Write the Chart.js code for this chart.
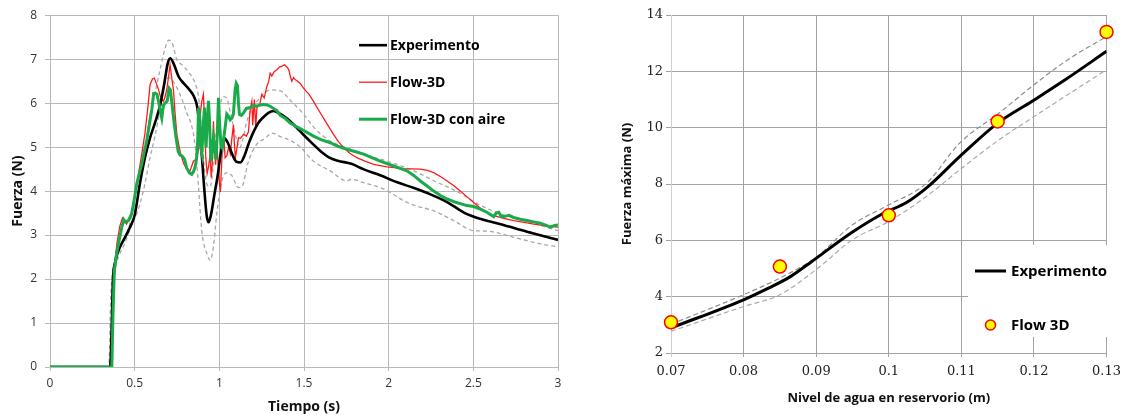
<!DOCTYPE html>
<html>
<head>
<meta charset="utf-8">
<script src="https://cdn.jsdelivr.net/npm/chart.js@4.4.1/dist/chart.umd.min.js"></script>
<style>
  html, body { margin: 0; padding: 0; background: #fff; }
  #wrap { position: relative; width: 1128px; height: 416px; overflow: hidden; }
  #wrap canvas { position: absolute; top: 0; }
  #fuerzaTiempo { left: 0; }
  #fuerzaNivel { left: 600px; }
</style>
</head>
<body>
<div id="wrap">
  <canvas id="fuerzaTiempo" width="600" height="416"></canvas>
  <canvas id="fuerzaNivel" width="528" height="416"></canvas>
</div>
<script>
// ---------- Fuerza vs tiempo ----------
const tExp = [0, 0.355, 0.365, 0.372, 0.385, 0.40, 0.425, 0.45, 0.475, 0.50, 0.53, 0.56, 0.59, 0.62, 0.65, 0.675, 0.695, 0.71, 0.73, 0.76, 0.79, 0.82, 0.85, 0.87, 0.89, 0.91, 0.925, 0.937, 0.95, 0.97, 0.99, 1.01, 1.03, 1.05, 1.075, 1.10, 1.125, 1.15, 1.175, 1.20, 1.23, 1.26, 1.29, 1.32, 1.35, 1.40, 1.45, 1.50, 1.55, 1.60, 1.65, 1.70, 1.78, 1.85, 1.95, 2.05, 2.15, 2.25, 2.35, 2.45, 2.55, 2.65, 2.75, 2.85, 2.95, 3.0];
const fExp = [0, 0, 1.0, 2.0, 2.38, 2.6, 2.82, 3.0, 3.2, 3.45, 4.15, 4.75, 5.2, 5.55, 5.95, 6.45, 6.9, 7.02, 6.9, 6.6, 6.45, 6.32, 6.15, 5.9, 5.15, 4.1, 3.45, 3.29, 3.45, 3.9, 4.35, 4.9, 5.2, 5.1, 4.85, 4.67, 4.65, 4.82, 5.1, 5.33, 5.55, 5.68, 5.78, 5.82, 5.78, 5.65, 5.47, 5.27, 5.08, 4.9, 4.76, 4.69, 4.62, 4.5, 4.36, 4.2, 4.07, 3.92, 3.74, 3.5, 3.36, 3.26, 3.15, 3.04, 2.94, 2.89];

const tExpSup = [0, 0.348, 0.358, 0.368, 0.385, 0.41, 0.435, 0.46, 0.49, 0.512, 0.54, 0.565, 0.59, 0.62, 0.65, 0.68, 0.70, 0.72, 0.75, 0.78, 0.82, 0.857, 0.877, 0.893, 0.91, 0.926, 0.946, 0.965, 0.985, 1.005, 1.024, 1.044, 1.064, 1.083, 1.103, 1.12, 1.14, 1.16, 1.185, 1.24, 1.30, 1.36, 1.42, 1.50, 1.56, 1.655, 1.753, 1.85, 1.99, 2.15, 2.27, 2.40, 2.54, 2.65, 2.75, 2.85, 3.0];
const fExpSup = [0, 0, 1.5, 2.1, 2.45, 2.75, 2.9, 3.1, 3.6, 4.08, 4.6, 5.15, 5.7, 6.23, 6.76, 7.25, 7.43, 7.38, 6.98, 6.87, 6.7, 6.45, 6.15, 5.5, 4.6, 4.16, 4.1, 4.6, 5.5, 5.97, 6.15, 6.12, 5.8, 5.48, 5.15, 4.98, 5.2, 5.55, 5.82, 6.12, 6.3, 6.28, 6.06, 5.74, 5.44, 5.14, 4.99, 4.84, 4.68, 4.46, 4.23, 4.0, 3.68, 3.5, 3.38, 3.27, 3.1];

const tExpInf = [0, 0.36, 0.37, 0.385, 0.41, 0.44, 0.463, 0.49, 0.512, 0.551, 0.591, 0.62, 0.65, 0.68, 0.70, 0.74, 0.78, 0.807, 0.837, 0.855, 0.875, 0.896, 0.926, 0.946, 0.965, 0.985, 1.015, 1.044, 1.074, 1.113, 1.133, 1.172, 1.22, 1.27, 1.31, 1.36, 1.42, 1.478, 1.556, 1.655, 1.753, 1.78, 1.852, 1.95, 2.009, 2.088, 2.15, 2.266, 2.384, 2.502, 2.58, 2.738, 2.896, 3.0];
const fExpInf = [0, 0, 1.6, 2.2, 2.55, 2.8, 3.03, 3.3, 3.48, 4.0, 4.76, 5.25, 5.85, 6.45, 6.58, 6.42, 6.08, 5.78, 5.48, 5.1, 4.2, 3.1, 2.58, 2.43, 2.73, 3.48, 4.23, 4.42, 4.35, 4.08, 4.1, 4.68, 5.06, 5.2, 5.32, 5.24, 5.15, 5.0, 4.68, 4.46, 4.23, 4.27, 4.19, 4.08, 3.97, 3.78, 3.68, 3.55, 3.33, 3.10, 3.09, 2.95, 2.80, 2.73];

const tFlow = [0, 0.36, 0.368, 0.378, 0.395, 0.412, 0.428, 0.44, 0.452, 0.47, 0.49, 0.515, 0.54, 0.561, 0.578, 0.591, 0.605, 0.616, 0.628, 0.64, 0.652, 0.67, 0.68, 0.69, 0.70, 0.709, 0.718, 0.729, 0.738, 0.749, 0.768, 0.778, 0.79, 0.807, 0.827, 0.847, 0.86, 0.872, 0.88, 0.887, 0.897, 0.906, 0.913, 0.92, 0.928, 0.936, 0.946, 0.952, 0.958, 0.965, 0.972, 0.978, 0.985, 0.993, 1.0, 1.006, 1.012, 1.02, 1.027, 1.034, 1.044, 1.055, 1.065, 1.074, 1.083, 1.09, 1.095, 1.105, 1.113, 1.125, 1.143, 1.16, 1.172, 1.182, 1.192, 1.197, 1.207, 1.215, 1.222, 1.24, 1.251, 1.265, 1.281, 1.292, 1.30, 1.31, 1.325, 1.34, 1.355, 1.37, 1.385, 1.40, 1.41, 1.42, 1.428, 1.438, 1.45, 1.478, 1.497, 1.53, 1.556, 1.585, 1.615, 1.645, 1.674, 1.70, 1.733, 1.77, 1.812, 1.86, 1.911, 1.99, 2.088, 2.187, 2.23, 2.266, 2.31, 2.345, 2.385, 2.423, 2.46, 2.502, 2.561, 2.62, 2.68, 2.738, 2.80, 2.857, 2.93, 3.0];
const fFlow = [0, 0, 1.2, 2.2, 2.8, 3.2, 3.39, 3.32, 3.25, 3.4, 3.6, 4.2, 4.8, 5.32, 5.9, 6.42, 6.55, 6.57, 6.45, 6.32, 6.15, 6.04, 6.15, 6.32, 6.6, 6.87, 6.6, 6.3, 5.8, 5.29, 4.91, 4.76, 4.62, 4.5, 4.46, 4.68, 4.72, 4.85, 5.0, 5.74, 6.05, 6.2, 5.6, 4.76, 4.4, 4.55, 4.84, 4.31, 4.6, 5.59, 5.0, 4.6, 5.1, 4.6, 4.2, 3.98, 4.5, 5.1, 5.2, 4.76, 4.8, 5.0, 4.85, 5.2, 5.5, 5.0, 4.76, 5.0, 5.21, 5.2, 5.29, 5.25, 5.35, 5.85, 6.04, 5.5, 6.08, 5.44, 5.9, 6.0, 6.2, 6.12, 6.38, 6.5, 6.68, 6.62, 6.72, 6.76, 6.82, 6.84, 6.87, 6.82, 6.76, 6.6, 6.5, 6.58, 6.53, 6.45, 6.34, 6.2, 6.04, 5.85, 5.66, 5.47, 5.29, 5.14, 4.99, 4.86, 4.76, 4.68, 4.61, 4.55, 4.51, 4.5, 4.47, 4.42, 4.32, 4.23, 4.12, 4.0, 3.88, 3.74, 3.55, 3.44, 3.38, 3.33, 3.29, 3.25, 3.21, 3.18];

const tAire = [0, 0.365, 0.372, 0.38, 0.392, 0.404, 0.424, 0.436, 0.445, 0.463, 0.482, 0.497, 0.512, 0.527, 0.542, 0.557, 0.571, 0.586, 0.601, 0.612, 0.622, 0.632, 0.643, 0.652, 0.66, 0.67, 0.68, 0.692, 0.703, 0.711, 0.72, 0.733, 0.745, 0.757, 0.768, 0.78, 0.795, 0.807, 0.822, 0.837, 0.848, 0.857, 0.866, 0.873, 0.877, 0.884, 0.89, 0.897, 0.905, 0.912, 0.917, 0.922, 0.928, 0.936, 0.942, 0.95, 0.957, 0.965, 0.972, 0.98, 0.988, 0.995, 1.002, 1.01, 1.018, 1.026, 1.034, 1.044, 1.054, 1.064, 1.074, 1.083, 1.093, 1.10, 1.107, 1.113, 1.119, 1.13, 1.143, 1.16, 1.182, 1.202, 1.221, 1.241, 1.26, 1.281, 1.30, 1.32, 1.34, 1.36, 1.39, 1.418, 1.448, 1.478, 1.52, 1.556, 1.60, 1.655, 1.70, 1.753, 1.80, 1.852, 1.90, 1.95, 2.029, 2.108, 2.15, 2.187, 2.225, 2.266, 2.305, 2.345, 2.40, 2.463, 2.502, 2.541, 2.58, 2.62, 2.635, 2.65, 2.665, 2.68, 2.71, 2.738, 2.777, 2.817, 2.856, 2.896, 2.93, 2.955, 2.98, 3.0];
const fAire = [0, 0, 1.2, 2.2, 2.55, 2.8, 3.18, 3.35, 3.3, 3.33, 3.48, 3.8, 4.16, 4.4, 4.61, 4.9, 5.14, 5.5, 5.85, 6.22, 6.23, 6.2, 6.0, 5.8, 5.66, 5.95, 6.0, 6.05, 6.34, 6.3, 6.0, 5.55, 5.2, 4.9, 4.82, 4.8, 4.72, 4.53, 4.42, 4.38, 4.45, 4.55, 4.75, 5.2, 5.89, 5.7, 5.0, 4.86, 5.5, 5.9, 5.3, 5.0, 5.6, 6.05, 5.6, 4.68, 4.9, 5.2, 4.95, 4.72, 5.3, 6.12, 5.5, 5.05, 4.98, 5.2, 5.44, 5.75, 5.7, 5.62, 5.66, 5.75, 6.3, 6.45, 6.4, 6.0, 5.74, 5.72, 5.78, 5.88, 5.9, 5.95, 5.93, 5.96, 5.97, 5.96, 5.93, 5.88, 5.83, 5.72, 5.65, 5.55, 5.48, 5.42, 5.33, 5.25, 5.17, 5.1, 5.02, 4.95, 4.9, 4.84, 4.76, 4.68, 4.57, 4.46, 4.35, 4.23, 4.12, 4.0, 3.9, 3.82, 3.74, 3.67, 3.65, 3.59, 3.52, 3.42, 3.5, 3.52, 3.42, 3.42, 3.45, 3.40, 3.36, 3.33, 3.3, 3.27, 3.22, 3.18, 3.22, 3.23];

const tiempoTicks = [0, 0.5, 1, 1.5, 2, 2.5, 3];
const fuerzaTicks = [0, 1, 2, 3, 4, 5, 6, 7, 8];

// ---------- Fuerza máxima vs nivel de agua ----------
const nivelExp = [0.07, 0.08, 0.0835, 0.0865, 0.0894, 0.0948, 0.0989, 0.1025, 0.1052, 0.1098, 0.115, 0.1197, 0.1243, 0.13];
const fMaxExp = [2.89, 3.89, 4.31, 4.72, 5.25, 6.26, 6.91, 7.35, 7.86, 8.98, 10.16, 10.93, 11.70, 12.71];
const nivelBanda = [0.07, 0.08, 0.085, 0.09, 0.095, 0.1, 0.1052, 0.1098, 0.1152, 0.1197, 0.1243, 0.13];
const fMaxSup = [3.02, 4.07, 4.66, 5.4, 6.55, 7.26, 8.03, 9.46, 10.52, 11.46, 12.35, 13.24];
const fMaxInf = [2.77, 3.65, 4.07, 4.96, 6.02, 6.67, 7.56, 8.51, 9.57, 10.34, 11.11, 12.06];
const nivelFlow = [0.07, 0.085, 0.1, 0.115, 0.13];
const fMaxFlow = [3.09, 5.07, 6.89, 10.22, 13.40];
const nivelTicks = [0.07, 0.08, 0.09, 0.1, 0.11, 0.12, 0.13];
const fMaxTicks = [2, 4, 6, 8, 10, 12, 14];

const pts = (xs, ys) => xs.map((x, i) => ({ x, y: ys[i] }));
const fixedTicks = list => s => { s.ticks = list.map(v => ({ value: v })); };
const plainLabel = v => String(Math.round(v * 1000) / 1000);

// Legend drawn inside the plot area
const insetLegend = {
  id: 'insetLegend',
  beforeDatasetsDraw(chart, args, opts) {
    if (!opts.box) return;
    const { ctx, chartArea } = chart;
    ctx.save();
    ctx.fillStyle = '#fff';
    ctx.fillRect(chartArea.left + opts.box.x, chartArea.top + opts.box.y, opts.box.w, opts.box.h);
    ctx.restore();
  },
  afterDatasetsDraw(chart, args, opts) {
    const { ctx, chartArea } = chart;
    ctx.save();
    opts.items.forEach((idx, i) => {
      const ds = chart.data.datasets[idx];
      const x = chartArea.left + opts.x;
      const y = chartArea.top + opts.y + i * opts.rowGap;
      if (ds.showLine === false) {
        ctx.beginPath();
        ctx.arc(x + opts.lineLen / 2, y, opts.markerRadius, 0, Math.PI * 2);
        ctx.fillStyle = ds.backgroundColor;
        ctx.fill();
        ctx.lineWidth = ds.borderWidth;
        ctx.strokeStyle = ds.borderColor;
        ctx.stroke();
      } else {
        ctx.setLineDash([]);
        ctx.lineWidth = ds.borderWidth;
        ctx.strokeStyle = ds.borderColor;
        ctx.beginPath();
        ctx.moveTo(x, y);
        ctx.lineTo(x + opts.lineLen, y);
        ctx.stroke();
      }
      ctx.fillStyle = '#000';
      ctx.font = opts.font;
      ctx.textBaseline = 'middle';
      ctx.textAlign = 'left';
      ctx.fillText(ds.label, x + opts.lineLen + opts.gap, y + 1);
    });
    ctx.restore();
  }
};

const SANS = "'Open Sans', 'DejaVu Sans', sans-serif";
const SERIF = "'DejaVu Serif', serif";

new Chart(document.getElementById('fuerzaTiempo'), {
  type: 'line',
  data: {
    datasets: [
      { label: 'Experimento', data: pts(tExp, fExp), borderColor: '#000', borderWidth: 2.6, cubicInterpolationMode: 'monotone', order: 1 },
      { label: 'Flow-3D', data: pts(tFlow, fFlow), borderColor: '#ff1a1a', borderWidth: 1.3, tension: 0, order: 2 },
      { label: 'Flow-3D con aire', data: pts(tAire, fAire), borderColor: '#1aaa4a', borderWidth: 3, tension: 0, order: 0 },
      { label: 'Experimento (máx.)', data: pts(tExpSup, fExpSup), borderColor: '#a8a8a8', borderWidth: 1.3, borderDash: [4, 3], cubicInterpolationMode: 'monotone', order: 3 },
      { label: 'Experimento (mín.)', data: pts(tExpInf, fExpInf), borderColor: '#a8a8a8', borderWidth: 1.3, borderDash: [4, 3], cubicInterpolationMode: 'monotone', order: 4 }
    ]
  },
  options: {
    responsive: false,
    animation: false,
    devicePixelRatio: 1,
    elements: { point: { radius: 0 }, line: { fill: false } },
    layout: { padding: { top: 13, right: 42, left: 0, bottom: 0 } },
    scales: {
      x: {
        type: 'linear', min: 0, max: 3,
        afterBuildTicks: fixedTicks(tiempoTicks),
        afterFit: s => { s.height = 49; },
        ticks: { callback: plainLabel, color: '#333', font: { family: SANS, size: 12 }, padding: 5, maxRotation: 0, autoSkip: false },
        grid: { color: '#b9b9b9', tickLength: 4 },
        border: { color: '#b9b9b9' },
        title: { display: true, text: 'Tiempo (s)', color: '#111', font: { family: SANS, size: 14, weight: 'bold' }, padding: { top: 0, bottom: 1 } }
      },
      y: {
        min: 0, max: 8,
        afterBuildTicks: fixedTicks(fuerzaTicks),
        afterFit: s => { s.width = 50; },
        ticks: { callback: plainLabel, color: '#333', font: { family: SANS, size: 12 }, padding: 8 },
        grid: { color: '#b9b9b9', tickLength: 5 },
        border: { color: '#b9b9b9' },
        title: { display: true, text: 'Fuerza (N)', color: '#111', font: { family: SANS, size: 14, weight: 'bold' }, padding: { top: 10, bottom: 0 } }
      }
    },
    plugins: {
      legend: { display: false },
      tooltip: { enabled: false },
      insetLegend: { items: [0, 1, 2], x: 309, y: 30, rowGap: 37, lineLen: 28, gap: 3, font: "bold 14px " + SANS }
    }
  },
  plugins: [insetLegend]
});

new Chart(document.getElementById('fuerzaNivel'), {
  type: 'line',
  data: {
    datasets: [
      { label: 'Experimento', data: pts(nivelExp, fMaxExp), borderColor: '#000', borderWidth: 3, cubicInterpolationMode: 'monotone', order: 1 },
      { label: 'Flow 3D', data: pts(nivelFlow, fMaxFlow), showLine: false, pointRadius: 6.5, backgroundColor: '#ffff00', borderColor: '#ff0000', borderWidth: 1.5, clip: false, order: 0 },
      { label: 'Experimento (máx.)', data: pts(nivelBanda, fMaxSup), borderColor: '#8c8c8c', borderWidth: 1.2, borderDash: [5, 3], cubicInterpolationMode: 'monotone', order: 2 },
      { label: 'Experimento (mín.)', data: pts(nivelBanda, fMaxInf), borderColor: '#ababab', borderWidth: 1.2, borderDash: [5, 3], cubicInterpolationMode: 'monotone', order: 3 }
    ]
  },
  options: {
    responsive: false,
    animation: false,
    devicePixelRatio: 1,
    elements: { point: { radius: 0 }, line: { fill: false } },
    layout: { padding: { top: 15, right: 16, left: 0, bottom: 0 } },
    scales: {
      x: {
        type: 'linear', min: 0.07, max: 0.13,
        afterBuildTicks: fixedTicks(nivelTicks),
        ticks: { callback: plainLabel, color: '#222', font: { family: SERIF, size: 13 }, padding: 7, maxRotation: 0, autoSkip: false },
        afterFit: s => { s.height = 63; },
        grid: { color: ctx => ctx.index === 0 ? '#cfcfcf' : '#a3a3a3', tickLength: 4 },
        border: { color: '#a3a3a3' },
        title: { display: true, text: 'Nivel de agua en reservorio (m)', color: '#111', font: { family: SANS, size: 13, weight: 'bold' }, padding: { top: 0, bottom: 10 } }
      },
      y: {
        min: 2, max: 14,
        afterBuildTicks: fixedTicks(fMaxTicks),
        ticks: { callback: plainLabel, color: '#222', font: { family: SERIF, size: 13 }, padding: 3 },
        afterFit: s => { s.width = 71; },
        grid: { color: '#a3a3a3', tickLength: 5 },
        border: { color: '#cfcfcf' },
        title: { display: true, text: 'Fuerza máxima (N)', color: '#111', font: { family: SANS, size: 13, weight: 'bold' }, padding: { top: 19, bottom: 0 } }
      }
    },
    plugins: {
      legend: { display: false },
      tooltip: { enabled: false },
      insetLegend: {
        items: [0, 1], x: 304, y: 256, rowGap: 54, lineLen: 31, gap: 5, markerRadius: 5,
        font: "bold 15px " + SANS,
        box: { x: 297, y: 230, w: 142, h: 92 }
      }
    }
  },
  plugins: [insetLegend]
});
</script>
</body>
</html>
